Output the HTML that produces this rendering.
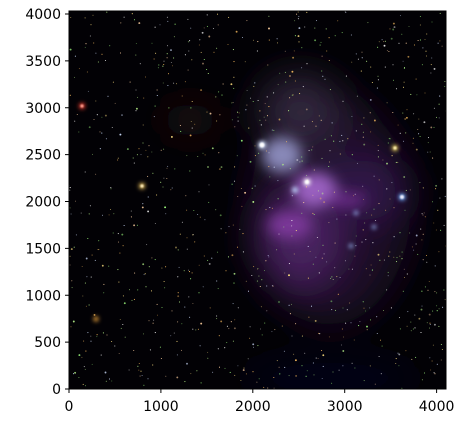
<!DOCTYPE html>
<html><head><meta charset="utf-8"><style>
html,body{margin:0;padding:0;background:#fff;}
svg{display:block;font-family:"DejaVu Sans","Liberation Sans",sans-serif;}
</style></head><body>
<svg id="c" width="471" height="432" viewBox="0 0 471 432">
<defs>
<filter id="b8" x="-50%" y="-50%" width="200%" height="200%"><feGaussianBlur stdDeviation="7"/></filter>
<filter id="b15" x="-50%" y="-50%" width="200%" height="200%"><feGaussianBlur stdDeviation="18"/></filter>
<filter id="b3" x="-100%" y="-100%" width="300%" height="300%"><feGaussianBlur stdDeviation="2"/></filter>
<filter id="b1" x="-100%" y="-100%" width="300%" height="300%"><feGaussianBlur stdDeviation="0.8"/></filter>
<clipPath id="clip"><rect x="69" y="11" width="377" height="378"/></clipPath>
</defs>
<g clip-path="url(#clip)">
<rect x="69" y="11" width="377" height="378" fill="#020105"/>
<g filter="url(#b15)">
<ellipse cx="330" cy="210" rx="80" ry="115" fill="#1e0e28"/>
<ellipse cx="190" cy="120" rx="30" ry="18" fill="#1a0810"/>
<ellipse cx="330" cy="378" rx="90" ry="12" fill="#0a0820"/>
<ellipse cx="300" cy="240" rx="40" ry="45" fill="#4a2060"/>
<ellipse cx="360" cy="190" rx="50" ry="30" fill="#301848"/>
<ellipse cx="300" cy="110" rx="40" ry="35" fill="#30283c"/>
</g>
<g filter="url(#b8)">
<ellipse cx="315" cy="190" rx="22" ry="18" fill="#9a60c0"/>
<ellipse cx="282" cy="155" rx="20" ry="18" fill="#8888b8"/>
<ellipse cx="290" cy="225" rx="22" ry="14" fill="#7a3898"/>
<ellipse cx="345" cy="200" rx="22" ry="7" fill="#6a2a88"/>
</g>
<g id="stars"></g>
<g filter="url(#b3)">
<circle cx="262" cy="145" r="4" fill="#d0e0ff"/>
<circle cx="307" cy="182" r="3.5" fill="#ffffff"/>
<circle cx="295" cy="190" r="3" fill="#c0d8ff"/>
<circle cx="402" cy="197" r="3.5" fill="#70b0ff"/>
<circle cx="142" cy="186" r="3" fill="#ffd060"/>
<circle cx="82" cy="106" r="3" fill="#ff4030"/>
<circle cx="395" cy="148" r="3" fill="#ffe060"/>
<circle cx="96" cy="319" r="2.5" fill="#ffb040"/>
<circle cx="356" cy="213" r="2" fill="#a0c0ff"/>
<circle cx="374" cy="227" r="2" fill="#a0c0ff"/>
<circle cx="351" cy="246" r="2" fill="#a0c0ff"/>
</g>
<g filter="url(#b1)">
<circle cx="262" cy="145" r="2.5" fill="#fff"/>
<circle cx="307" cy="182" r="2" fill="#fff"/>
<circle cx="402" cy="197" r="2" fill="#eef"/>
<circle cx="142" cy="186" r="1.6" fill="#fff0c0"/>
<circle cx="82" cy="106" r="1.6" fill="#ffa090"/>
<circle cx="395" cy="148" r="1.6" fill="#fff0b0"/>
</g>
</g>
<rect x="69" y="11" width="377" height="378" fill="none" stroke="#000" stroke-width="1"/>
<g id="axes"></g>
</svg>
<script>
const xTicks=[0,1000,2000,3000,4000];
const yTicks=[0,500,1000,1500,2000,2500,3000,3500,4000];
const xScale=v=>69+v*0.0919;
const yScale=v=>389-v*0.09375;
const NS="http://www.w3.org/2000/svg";
const axes=document.getElementById('axes');
function mk(t,a){const e=document.createElementNS(NS,t);for(const k in a)e.setAttribute(k,a[k]);return e;}
xTicks.forEach(v=>{const x=xScale(v);
 const l=mk('line',{x1:x,x2:x,y1:389,y2:393,stroke:'#000','stroke-width':1});
 
 
 axes.appendChild(l);
 const t=mk('text',{x:x,y:411,'text-anchor':'middle','font-size':14,fill:'#000'});
 t.textContent=v;
 
 
 axes.appendChild(t);});
yTicks.forEach(v=>{const y=yScale(v);
 const l=mk('line',{x1:65,x2:69,y1:y,y2:y,stroke:'#000','stroke-width':1});
 
 
 axes.appendChild(l);
 const t=mk('text',{x:61,y:y+5,'text-anchor':'end','font-size':14,fill:'#000'});
 t.textContent=v;
 
 
 axes.appendChild(t);});
const g=document.getElementById('stars');
let s=12345;const rnd=()=>{s=(s*1103515245+12345)%2147483648;return s/2147483648;};
const cols=['#ffffff','#ffe080','#c0ff90','#ffc060','#d0e0ff','#a0ff80','#ffd0a0'];
for(let i=0;i<1000;i++){
 const x=69+rnd()*377,y=11+rnd()*378,r=rnd()<0.9?0.55:0.95;
 const c=mk('circle',{cx:x.toFixed(1),cy:y.toFixed(1),r:r,fill:cols[Math.floor(rnd()*cols.length)],opacity:(0.4+rnd()*0.6).toFixed(2)});
 
 
 g.appendChild(c);
}
</script>
</body></html>
